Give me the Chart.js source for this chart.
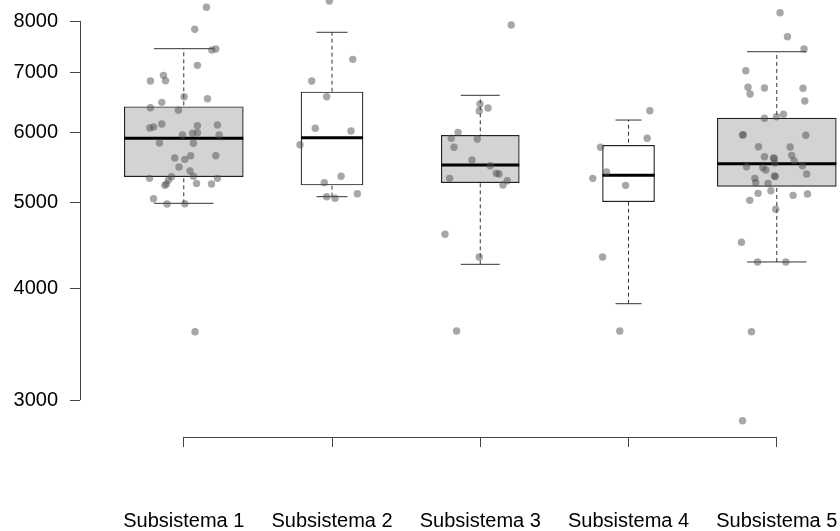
<!DOCTYPE html>
<html>
<head>
<meta charset="utf-8">
<script src="https://cdn.jsdelivr.net/npm/chart.js@4.4.1/dist/chart.umd.min.js"></script>
<style>
  body { margin: 0; background: #fff; }
  #wrap { width: 840px; height: 531px; }
</style>
</head>
<body>
<div id="wrap"><canvas id="boxChart"></canvas></div>
<script>
// Kategori dan tick sumbu
const categories = ['Subsistema 1', 'Subsistema 2', 'Subsistema 3', 'Subsistema 4', 'Subsistema 5'];
const yTicks = [3000, 4000, 5000, 6000, 7000, 8000];

// Statistik boxplot (whisker bawah, Q1, median, Q3, whisker atas)
const boxLow = [4992, 5078, 4263, 3850, 4289];
const boxQ1 = [5347, 5234, 5265, 5013, 5216];
const boxMedian = [5906, 5915, 5512, 5367, 5530];
const boxQ3 = [6409, 6658, 5952, 5800, 6224];
const boxHigh = [7447, 7770, 6601, 6192, 7389];
const boxFill = ['#d3d3d3', '#ffffff', '#d3d3d3', '#ffffff', '#d3d3d3'];
const boxWidth = [119, 62, 78, 52, 119];

// Titik observasi (nilai dan jitter horizontal)
const s1Values = [8289, 7830, 7441, 7422, 7133, 6951, 6850, 6855, 6577, 6543, 6482, 6393, 6350, 6129, 6066,
  6081, 6102, 6113, 5957, 5983, 5992, 5957, 5834, 5830, 5612, 5593, 5646, 5646, 5483, 5427, 5325, 5347,
  5302, 5354, 5325, 5247, 5229, 5256, 5247, 5051, 4983, 4987, 3581];
const s1Jitter = [0.153, 0.074, 0.216, 0.189, 0.092, -0.137, -0.225, -0.123, 0.002, 0.160, -0.148, -0.225,
  -0.036, -0.148, -0.229, -0.204, 0.092, 0.227, -0.009, 0.059, 0.092, 0.238, -0.164, 0.065, -0.061, 0.007,
  0.047, 0.216, -0.032, 0.042, -0.231, -0.083, -0.103, 0.065, 0.227, -0.117, -0.128, 0.086, 0.187, -0.204,
  -0.113, 0.007, 0.076];
const s2Values = [8425, 7245, 6850, 6577, 6061, 6018, 5809, 5354, 5265, 5117, 5078, 5057];
const s2Jitter = [-0.018, 0.140, -0.137, -0.036, -0.113, 0.128, -0.216, 0.061, -0.052, 0.171, -0.036, 0.020];
const s3Values = [7918, 6454, 6338, 6387, 5998, 5906, 5895, 5770, 5583, 5502, 5395, 5385, 5325, 5292, 5234,
  4607, 4344, 3587];
const s3Jitter = [0.209, -0.002, -0.007, 0.052, -0.150, -0.196, -0.020, -0.177, -0.056, 0.067, 0.108, 0.126,
  -0.207, 0.182, 0.153, -0.238, -0.007, -0.160];
const s4Values = [6343, 5906, 5770, 5412, 5325, 5229, 4344, 3587];
const s4Jitter = [0.144, 0.126, -0.189, -0.148, -0.241, -0.020, -0.175, -0.059];
const s5Values = [8174, 7682, 7441, 7035, 6739, 6623, 6726, 6722, 6504, 6220, 6246, 6285, 5957, 5962, 5952,
  5779, 5774, 5631, 5612, 5605, 5651, 5573, 5539, 5487, 5474, 5441, 5501, 5385, 5358, 5350, 5325, 5265,
  5256, 5157, 5122, 5096, 5113, 5030, 4915, 4513, 4289, 4289, 3581, 2844];
const s5Jitter = [0.022, 0.072, 0.184, -0.209, -0.194, -0.180, -0.083, 0.177, 0.189, -0.083, -0.002, 0.045,
  -0.231, -0.226, 0.196, -0.123, 0.090, -0.083, -0.022, -0.017, 0.101, 0.117, -0.013, -0.204, -0.094,
  -0.074, 0.173, 0.202, -0.016, -0.010, -0.148, -0.142, -0.059, -0.040, -0.126, 0.110, 0.207, -0.182,
  -0.007, -0.238, -0.130, 0.061, -0.171, -0.231];

const pointValues = [s1Values, s2Values, s3Values, s4Values, s5Values];
const pointJitter = [s1Jitter, s2Jitter, s3Jitter, s4Jitter, s5Jitter];

// Batas sumbu (skala log)
const yMin = 2727;
const yMax = 8447;
const xMin = 0.3;
const xMax = 5.4265;

const axisFont = { family: '"Liberation Sans", Arial, sans-serif', size: 20 };

// Data untuk whisker (garis putus-putus dari bawah ke atas, dipisah dengan null)
const whiskerData = [];
categories.forEach((c, i) => {
    whiskerData.push({ x: i + 1, y: boxLow[i] });
    whiskerData.push({ x: i + 1, y: boxHigh[i] });
    whiskerData.push({ x: i + 1.5, y: null });
});

const boxDatasets = categories.map((c, i) => ({
    type: 'bar',
    data: [{ x: i + 1, y: [boxQ1[i], boxQ3[i]] }],
    backgroundColor: boxFill[i],
    borderColor: '#222',
    borderWidth: 1.2,
    borderSkipped: false,
    barThickness: boxWidth[i],
    grouped: false,
    order: 9
}));

const jitterPoints = [];
pointValues.forEach((vals, i) => {
    vals.forEach((v, k) => jitterPoints.push({ x: i + 1 + pointJitter[i][k], y: v }));
});

// Garis sumbu ala R (hanya sepanjang tick)
const rAxes = {
    id: 'rAxes',
    afterDraw(chart) {
        const { ctx, chartArea, scales } = chart;
        ctx.save();
        ctx.strokeStyle = '#444';
        ctx.lineWidth = 1;
        const ax = Math.round(chartArea.left) + 0.5;
        ctx.beginPath();
        ctx.moveTo(ax, scales.y.getPixelForValue(yTicks[0]));
        ctx.lineTo(ax, scales.y.getPixelForValue(yTicks[yTicks.length - 1]));
        const ay = Math.round(chartArea.bottom) + 0.5;
        ctx.moveTo(scales.x.getPixelForValue(1), ay);
        ctx.lineTo(scales.x.getPixelForValue(categories.length), ay);
        ctx.stroke();
        ctx.restore();
    }
};

const ctx = document.getElementById('boxChart').getContext('2d');
const boxChart = new Chart(ctx, {
    type: 'scatter',
    data: {
        datasets: [
            {
                type: 'line',
                data: whiskerData,
                borderColor: '#333',
                borderWidth: 1,
                borderDash: [4, 3],
                pointRadius: 0,
                spanGaps: false,
                order: 10
            },
            ...boxDatasets,
            {
                data: boxHigh.map((v, i) => ({ x: i + 1, y: v })),
                pointStyle: 'line',
                pointRadius: boxWidth.map(w => w / 4),
                pointBorderColor: '#333',
                pointBorderWidth: 1,
                order: 8
            },
            {
                data: boxLow.map((v, i) => ({ x: i + 1, y: v })),
                pointStyle: 'line',
                pointRadius: boxWidth.map(w => w / 4),
                pointBorderColor: '#333',
                pointBorderWidth: 1,
                order: 8
            },
            {
                data: boxMedian.map((v, i) => ({ x: i + 1, y: v })),
                pointStyle: 'line',
                pointRadius: boxWidth.map(w => w / 2),
                pointBorderColor: '#000',
                pointBorderWidth: 3,
                order: 7
            },
            {
                data: jitterPoints,
                pointRadius: 3.7,
                pointBackgroundColor: 'rgba(80, 80, 80, 0.5)',
                pointBorderWidth: 0,
                order: 1
            }
        ]
    },
    options: {
        responsive: true,
        maintainAspectRatio: false,
        animation: false,
        layout: { padding: 0, autoPadding: false },
        plugins: {
            legend: { display: false },
            tooltip: { enabled: false }
        },
        scales: {
            x: {
                type: 'linear',
                min: xMin,
                max: xMax,
                offset: false,
                afterBuildTicks: scale => {
                    scale.ticks = categories.map((c, i) => ({ value: i + 1 }));
                },
                afterFit: scale => {
                    scale.height = 94;
                    scale.paddingLeft = 0;
                    scale.paddingRight = 0;
                },
                ticks: {
                    autoSkip: false,
                    maxRotation: 0,
                    padding: 62,
                    color: '#000',
                    font: axisFont,
                    callback: value => categories[value - 1]
                },
                grid: { drawOnChartArea: false, offset: false, tickLength: 10, color: '#444' },
                border: { display: false }
            },
            y: {
                type: 'logarithmic',
                min: yMin,
                max: yMax,
                afterBuildTicks: scale => {
                    scale.ticks = yTicks.map(v => ({ value: v }));
                },
                afterFit: scale => {
                    scale.width = 80;
                    scale.paddingTop = 0;
                    scale.paddingBottom = 0;
                },
                ticks: {
                    padding: 12,
                    color: '#000',
                    font: axisFont,
                    callback: value => String(value)
                },
                grid: { drawOnChartArea: false, tickLength: 10, color: '#444' },
                border: { display: false }
            }
        }
    },
    plugins: [rAxes]
});
</script>
</body>
</html>
